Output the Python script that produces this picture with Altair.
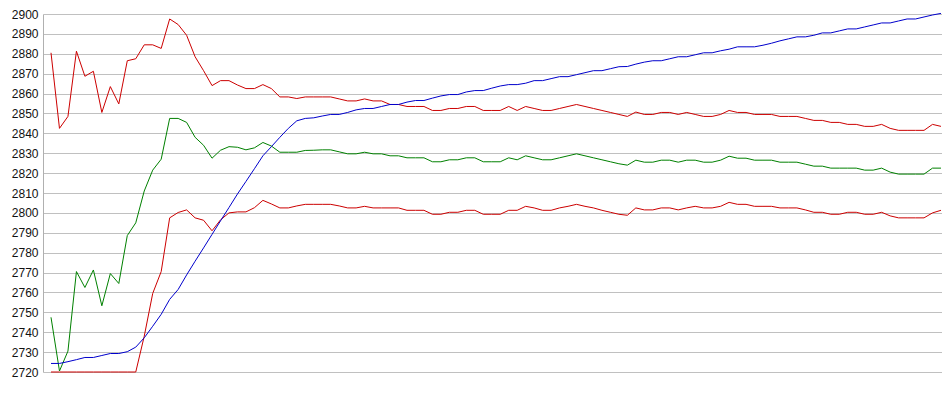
import altair as alt
import pandas as pd

upper = [2880.5, 2842.5, 2848.5, 2881.3, 2868.7, 2871.2, 2850.5, 2863.5, 2854.8, 2876.5,
         2877.5, 2884.5, 2884.5, 2882.7, 2897.5, 2894.7, 2889.3, 2878.5, 2871.5, 2864.0,
         2866.5, 2866.5, 2864.3, 2862.5, 2862.5, 2864.5, 2862.5, 2858.3, 2858.3, 2857.5,
         2858.3, 2858.3, 2858.3, 2858.3, 2857.3, 2856.3, 2856.3, 2857.3, 2856.3, 2856.3,
         2854.5, 2854.5, 2853.5, 2853.5, 2853.5, 2851.5, 2851.5, 2852.5, 2852.5, 2853.5,
         2853.5, 2851.5, 2851.5, 2851.5, 2853.5, 2851.5, 2853.5, 2852.5, 2851.5, 2851.5,
         2852.5, 2853.5, 2854.5, 2853.5, 2852.5, 2851.5, 2850.5, 2849.5, 2848.5, 2850.7,
         2849.5, 2849.5, 2850.5, 2850.5, 2849.5, 2850.5, 2849.5, 2848.5, 2848.5, 2849.5,
         2851.5, 2850.5, 2850.5, 2849.5, 2849.5, 2849.5, 2848.5, 2848.5, 2848.5, 2847.5,
         2846.5, 2846.5, 2845.5, 2845.5, 2844.5, 2844.5, 2843.5, 2843.5, 2844.5, 2842.5,
         2841.5, 2841.5, 2841.5, 2841.5, 2844.5, 2843.5]

middle = [2747.5, 2720.5, 2730.5, 2770.5, 2762.5, 2771.3, 2753.3, 2769.5, 2764.5, 2788.6,
          2795.0, 2811.0, 2821.5, 2827.0, 2847.5, 2847.5, 2845.5, 2838.0, 2834.0, 2827.5,
          2831.5, 2833.3, 2833.0, 2831.7, 2832.7, 2835.4, 2833.6, 2830.5, 2830.5, 2830.5,
          2831.4, 2831.5, 2831.7, 2831.7, 2830.7, 2829.7, 2829.7, 2830.5, 2829.7, 2829.7,
          2828.7, 2828.7, 2827.7, 2827.7, 2827.7, 2825.7, 2825.7, 2826.7, 2826.7, 2827.7,
          2827.7, 2825.7, 2825.7, 2825.7, 2827.7, 2826.7, 2828.7, 2827.7, 2826.7, 2826.7,
          2827.7, 2828.7, 2829.7, 2828.7, 2827.7, 2826.7, 2825.7, 2824.7, 2824.0, 2826.5,
          2825.5, 2825.5, 2826.5, 2826.5, 2825.5, 2826.5, 2826.5, 2825.5, 2825.5, 2826.5,
          2828.5, 2827.5, 2827.5, 2826.5, 2826.5, 2826.5, 2825.5, 2825.5, 2825.5, 2824.5,
          2823.5, 2823.5, 2822.5, 2822.5, 2822.5, 2822.5, 2821.5, 2821.5, 2822.5, 2820.5,
          2819.5, 2819.5, 2819.5, 2819.5, 2822.5, 2822.5]

lower = [2720, 2720, 2720, 2720, 2720, 2720, 2720, 2720, 2720, 2720,
         2720, 2738.0, 2759.5, 2770.5, 2797.5, 2800.2, 2801.5, 2797.5, 2796.3, 2791.0,
         2796.5, 2800.0, 2800.5, 2800.5, 2802.6, 2806.3, 2804.5, 2802.5, 2802.5, 2803.5,
         2804.3, 2804.3, 2804.3, 2804.3, 2803.5, 2802.5, 2802.5, 2803.3, 2802.5, 2802.5,
         2802.5, 2802.5, 2801.3, 2801.3, 2801.3, 2799.3, 2799.3, 2800.3, 2800.3, 2801.3,
         2801.3, 2799.3, 2799.3, 2799.3, 2801.3, 2801.3, 2803.3, 2802.5, 2801.3, 2801.3,
         2802.5, 2803.3, 2804.3, 2803.3, 2802.5, 2801.3, 2800.3, 2799.3, 2798.8, 2802.5,
         2801.5, 2801.5, 2802.5, 2802.5, 2801.5, 2802.5, 2803.3, 2802.5, 2802.5, 2803.3,
         2805.3, 2804.3, 2804.3, 2803.3, 2803.3, 2803.3, 2802.5, 2802.5, 2802.5, 2801.5,
         2800.3, 2800.3, 2799.3, 2799.3, 2800.3, 2800.3, 2799.3, 2799.3, 2800.3, 2798.5,
         2797.5, 2797.5, 2797.5, 2797.5, 2800.0, 2801.3]

price = [2724.3, 2724.3, 2725.2, 2726.2, 2727.3, 2727.3, 2728.3, 2729.3, 2729.3, 2730.2,
         2732.5, 2737.2, 2743.0, 2749.0, 2756.5, 2761.5, 2768.8, 2775.7, 2782.4, 2789.2,
         2796.0, 2802.7, 2809.5, 2815.8, 2822.2, 2828.7, 2833.3, 2838.0, 2842.5, 2846.3,
         2847.5, 2847.8, 2848.7, 2849.5, 2849.5, 2850.5, 2851.8, 2852.5, 2852.5, 2853.5,
         2854.5, 2854.5, 2855.7, 2856.5, 2856.5, 2857.7, 2858.8, 2859.5, 2859.5, 2860.8,
         2861.5, 2861.5, 2862.7, 2863.8, 2864.5, 2864.5, 2865.2, 2866.5, 2866.5, 2867.5,
         2868.5, 2868.5, 2869.5, 2870.5, 2871.5, 2871.5, 2872.5, 2873.5, 2873.6, 2874.8,
         2875.8, 2876.5, 2876.5, 2877.5, 2878.5, 2878.5, 2879.5, 2880.5, 2880.5, 2881.5,
         2882.3, 2883.5, 2883.5, 2883.5, 2884.3, 2885.3, 2886.5, 2887.5, 2888.5, 2888.5,
         2889.3, 2890.5, 2890.5, 2891.5, 2892.5, 2892.5, 2893.5, 2894.5, 2895.5, 2895.5,
         2896.5, 2897.5, 2897.5, 2898.5, 2899.5, 2900.3]

y_ticks = list(range(2720, 2901, 10))

series_names = ["upper", "middle", "lower", "price"]
series_colors = ["#cc0000", "#008000", "#cc0000", "#0000cc"]

rows = []
for name, vals in zip(series_names, [upper, middle, lower, price]):
    for i, v in enumerate(vals):
        rows.append({"idx": i, "value": v, "series": name})
df = pd.DataFrame(rows)

chart = alt.Chart(df).mark_line(strokeWidth=1, clip=False).encode(
    x=alt.X("idx:Q",
            scale=alt.Scale(domain=[-0.944, 105.12], nice=False, zero=False),
            axis=None),
    y=alt.Y("value:Q",
            scale=alt.Scale(domain=[2720, 2900], nice=False, zero=False),
            axis=alt.Axis(values=y_ticks, title=None, ticks=False,
                          labelPadding=5, labelFontSize=12,
                          labelFont="Liberation Sans", labelColor="#111111",
                          grid=True, gridColor="#c0c0c0", gridWidth=1,
                          domain=True, domainColor="#b0b0b0", domainWidth=1,
                          labelOverlap=False, format="d")),
    color=alt.Color("series:N",
                    scale=alt.Scale(domain=series_names, range=series_colors),
                    legend=None),
    order=alt.Order("idx:Q"),
).properties(
    width=899,
    height=358,
    padding={"left": 35, "top": 6, "right": 0, "bottom": 7},
    autosize="none",
).configure_view(stroke=None)

chart.save("out.html", embed_options={"renderer": "svg", "actions": False})
